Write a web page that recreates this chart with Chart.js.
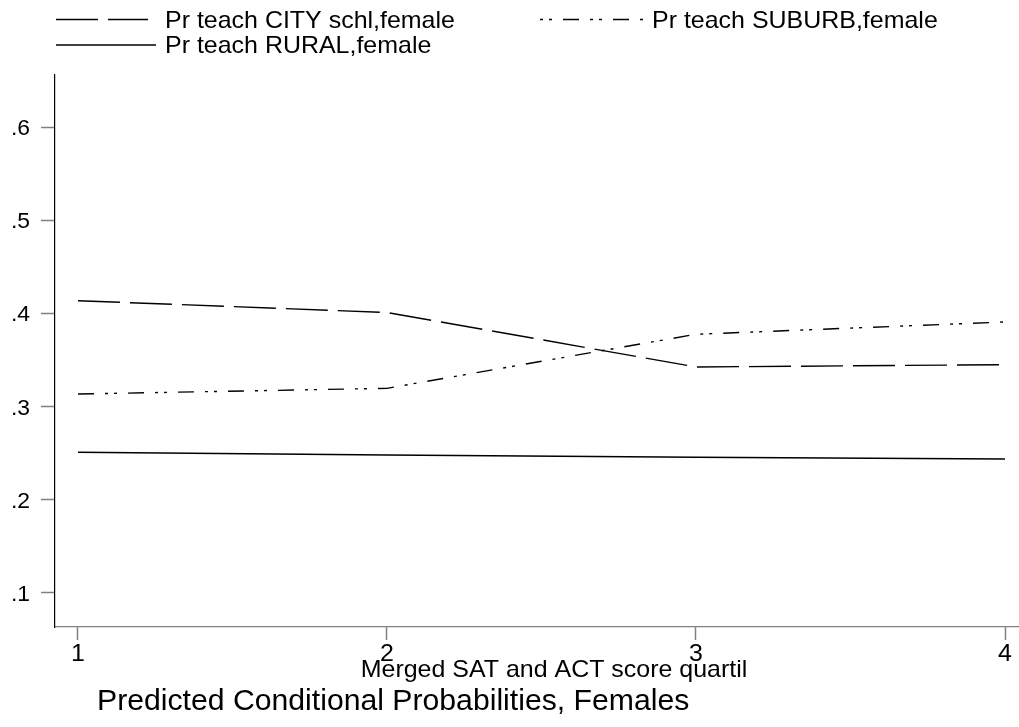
<!DOCTYPE html>
<html>
<head>
<meta charset="utf-8">
<script src="https://cdn.jsdelivr.net/npm/chart.js@4.4.0/dist/chart.umd.min.js"></script>
<style>
  html, body { margin: 0; padding: 0; background: #fff; }
  #wrap { width: 1019px; height: 727px; }
</style>
</head>
<body>
<div id="wrap"><canvas id="probChart"></canvas></div>
<script>
// data
const quartiles = [1, 2, 3, 4];
const cityFemale = [0.4136, 0.401, 0.3425, 0.345];
const suburbFemale = [0.3135, 0.3196, 0.3776, 0.3908];
const ruralFemale = [0.251, 0.248, 0.2456, 0.2438];
const yTicks = [0.1, 0.2, 0.3, 0.4, 0.5, 0.6];
const xTicks = [1, 2, 3, 4];
const xTitle = 'Merged SAT and ACT score quartil';
const chartTitle = 'Predicted Conditional Probabilities, Females';

const FONT = "'Liberation Sans', Arial, sans-serif";
Chart.defaults.font.family = FONT;
Chart.defaults.color = '#000';

const cityDash = [42, 10];
const suburbDash = [16, 11, 3, 6, 3, 11];
const STRETCH = 1.04; // stata text is a touch wider than arial

function wideText(ctx, txt, x, y, align, size) {
  ctx.save();
  ctx.font = size + 'px ' + FONT;
  ctx.fillStyle = '#000';
  ctx.textBaseline = 'alphabetic';
  ctx.textAlign = align;
  ctx.translate(x, y);
  ctx.scale(STRETCH, 1);
  ctx.fillText(txt, 0, 0);
  ctx.restore();
}

// legend, tick labels and titles drawn by hand, Stata style
const stataText = {
  id: 'stataText',
  afterDraw(chart) {
    const ctx = chart.ctx;
    const sets = chart.data.datasets;
    const xs = chart.scales.x, ys = chart.scales.y;
    ctx.save();
    ctx.strokeStyle = '#000';
    ctx.lineWidth = 1.4;

    const item = (ds, x0, x1, y, tx, offset) => {
      ctx.setLineDash(ds.borderDash || []);
      ctx.lineDashOffset = offset || 0;
      ctx.beginPath();
      ctx.moveTo(x0, y);
      ctx.lineTo(x1, y);
      ctx.stroke();
      ctx.setLineDash([]);
      wideText(ctx, ds.label, tx, y + 8, 'left', 24);
    };
    item(sets[0], 56, 148, 19.5, 165);
    item(sets[1], 540, 646, 19.5, 652, 27);
    item(sets[2], 56, 156, 45, 165);

    // tick labels
    yTicks.forEach(v => {
      const lbl = String(Math.round(v * 10) / 10).replace(/^0/, '');
      wideText(ctx, lbl, 30, ys.getPixelForValue(v) + 8, 'right', 22);
    });
    xTicks.forEach(v => {
      wideText(ctx, String(v), xs.getPixelForValue(v), 660.5, 'center', 24);
    });

    wideText(ctx, xTitle, 554, 677, 'center', 24);

    ctx.font = '30.2px ' + FONT;
    ctx.fillStyle = '#000';
    ctx.textAlign = 'left';
    ctx.textBaseline = 'alphabetic';
    ctx.fillText(chartTitle, 97, 710);
    ctx.restore();
  }
};

new Chart(document.getElementById('probChart'), {
  type: 'line',
  data: {
    labels: quartiles,
    datasets: [
      {
        label: 'Pr teach CITY schl,female',
        data: quartiles.map((q, i) => ({ x: q, y: cityFemale[i] })),
        borderColor: '#000',
        borderWidth: 1.4,
        borderDash: cityDash,
        pointRadius: 0,
        tension: 0
      },
      {
        label: 'Pr teach SUBURB,female',
        data: quartiles.map((q, i) => ({ x: q, y: suburbFemale[i] })),
        borderColor: '#000',
        borderWidth: 1.4,
        borderDash: suburbDash,
        pointRadius: 0,
        tension: 0
      },
      {
        label: 'Pr teach RURAL,female',
        data: quartiles.map((q, i) => ({ x: q, y: ruralFemale[i] })),
        borderColor: '#000',
        borderWidth: 1.4,
        pointRadius: 0,
        tension: 0
      }
    ]
  },
  options: {
    responsive: true,
    maintainAspectRatio: false,
    animation: false,
    layout: { padding: { top: 75, right: 0, left: 0, bottom: 0 } },
    plugins: {
      legend: { display: false },
      title: { display: false },
      tooltip: { enabled: false }
    },
    scales: {
      x: {
        type: 'linear',
        min: 0.9256,
        max: 4.0453,
        afterBuildTicks: s => { s.ticks = xTicks.map(v => ({ value: v })); },
        afterFit: s => { s.height = 100; },
        grid: { drawOnChartArea: false, drawTicks: true, tickLength: 13, tickColor: '#808080', tickWidth: 1.5 },
        border: { color: '#808080', width: 1.2 },
        ticks: { display: false }
      },
      y: {
        type: 'linear',
        min: 0.0635,
        max: 0.6558,
        afterBuildTicks: s => { s.ticks = yTicks.map(v => ({ value: v })); },
        afterFit: s => { s.width = 55; },
        grid: { drawOnChartArea: false, drawTicks: true, tickLength: 14, tickColor: '#808080', tickWidth: 1.5 },
        border: { color: '#000', width: 1.2 },
        ticks: { display: false }
      }
    }
  },
  plugins: [stataText]
});
</script>
</body>
</html>
